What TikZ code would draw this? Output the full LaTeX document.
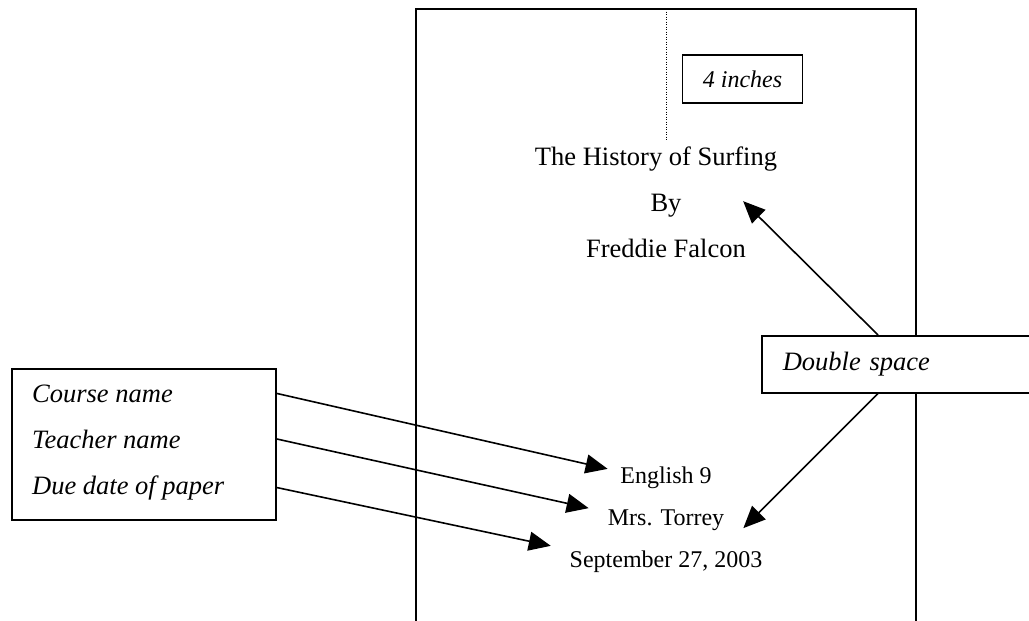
\documentclass[tikz,border=0pt]{standalone}
\usepackage{fontspec}
\setmainfont{Liberation Serif}
\usetikzlibrary{arrows.meta,positioning}

\begin{document}
\begin{tikzpicture}[x=1pt, y=-1pt,
    big/.style={font=\fontsize{26.5}{30}\selectfont, inner sep=0pt, anchor=base},
    small/.style={font=\fontsize{24}{28}\selectfont, inner sep=0pt, anchor=base},
    note/.style={font=\fontsize{26.5}{30}\selectfont\itshape, inner sep=0pt, anchor=base west},
    frame/.style={draw, line width=1.6pt},
    pointer/.style={line width=1.6pt, -{Triangle[length=22pt,width=19pt]}}
  ]
  \clip (0,0) rectangle (1029,621);
  % page outline, open at the bottom
  \draw[line width=2.4pt] (416,640) -- (416,9) -- (916,9) -- (916,640);
  \coordinate (mtop) at (666,9);
  \coordinate (mbot) at (666,141);
  \draw[line width=1pt, dash pattern=on 1pt off 1.5pt] (mtop) -- (mbot);
  \node[frame, font=\fontsize{24}{28}\selectfont\itshape, inner xsep=20.5pt, inner ysep=15.8pt] (inches) at (742.5,79) {4 inches};

  % title block
  \node[big] (title) at (656,165) {The History of Surfing};
  \node[big] (by) at (666,211) {By};
  \node[big] (falcon) at (666,257) {Freddie Falcon};

  % heading lines
  \node[small] (eng) at (666,483) {English 9};
  \node[small] (mrs) at (666,525) {Mrs. Torrey};
  \node[small] (sept) at (666,567) {September 27, 2003};

  % left callout
  \node[frame, anchor=north west, minimum width=264pt, minimum height=151pt, inner sep=0pt] (lbox) at (11,368) {};
  \foreach \lab/\name/\yy in {Course name/course/402, Teacher name/teacher/448, Due date of paper/due/494}
    \node[note] (\name) at (32,\yy) {\lab};

  % right callout
  \node[frame, fill=white, anchor=north west, minimum height=57pt, text width=238pt, align=left,
        inner xsep=21pt, inner ysep=0pt, font=\fontsize{26.5}{30}\selectfont\itshape] (dbl) at (761,335) {Double space};

  % arrows
  \foreach \from/\to/\dx/\dy in {course/eng/-12.5pt/8.4pt, teacher/mrs/-19pt/11.6pt, due/sept/-18.7pt/15.4pt}
    \draw[pointer] (lbox.east |- \from) -- ([xshift=\dx, yshift=\dy]\to.west);
  \draw[pointer] ([xshift=117pt]dbl.north west) -- ([xshift=61.5pt, yshift=4pt]by.east);
  \draw[pointer] ([xshift=117pt]dbl.south west) -- ([xshift=19pt, yshift=-8.4pt]mrs.east);
\end{tikzpicture}
\end{document}
